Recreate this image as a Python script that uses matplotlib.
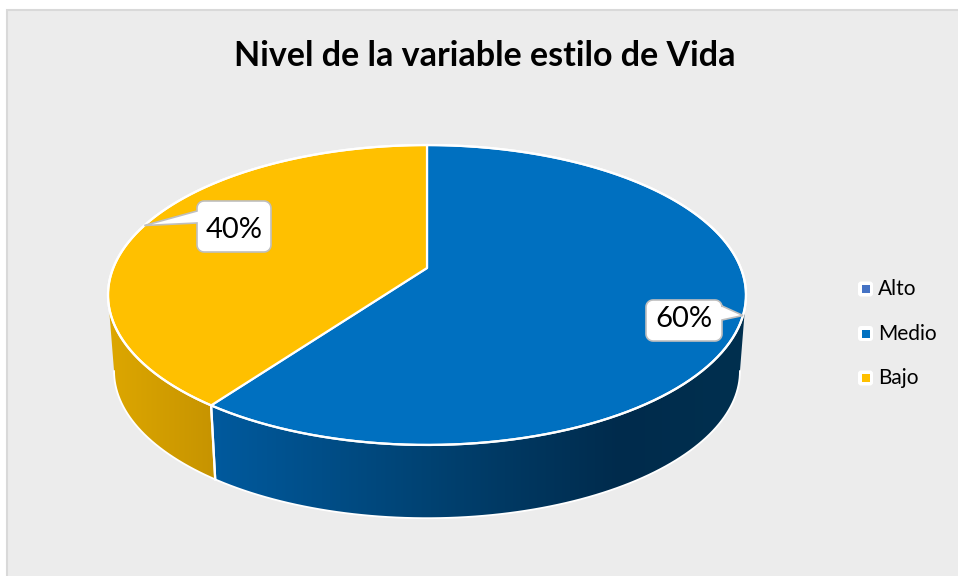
"""3D-style pie chart: Nivel de la variable estilo de Vida."""

import math

import matplotlib

matplotlib.use("Agg")
import matplotlib.pyplot as plt
import numpy as np
from matplotlib.colors import LinearSegmentedColormap
from matplotlib.patches import FancyBboxPatch, Polygon, Rectangle

plt.rcParams["font.family"] = ["Lato", "DejaVu Sans"]

# data
categories = ["Alto", "Medio", "Bajo"]
values = [0, 60, 40]
top_colors = ["#4472C4", "#0070C0", "#FFC000"]
title = "Nivel de la variable estilo de Vida"

# side-wall gradients (x position in px, colour)
side_stops = {
    "Medio": [(210, "#005a9e"), (430, "#004272"), (620, "#002b4c"), (746, "#00304f")],
    "Bajo": [(108, "#dda700"), (212, "#c79400")],
}
# label boxes: (x0, y0, x1, y1, pointer side, pointer base y0, y1)
label_boxes = {
    "Medio": (646, 300, 722, 341, "right", 306, 320),
    "Bajo": (197, 201, 271, 252, "left", 211, 223),
}

# perspective disc geometry (pixels)
CX, CY = 427.0, 268.0
R, S, K = 313.8, 145.1, 0.18
VX, VY, SB = 427.0, 4300.0, 0.981
FRONT = (100.4, 259.6)


def rim(phi, bottom=False):
    p = np.radians(phi)
    X, Y = np.sin(p), np.cos(p)
    d = 1 + K * Y
    x = CX + R * X / d
    y = CY - S * Y / d
    if bottom:
        x = VX + (x - VX) * SB
        y = VY + (y - VY) * SB
    return x, y


def arc(a0, a1, bottom=False, n=120):
    phis = np.linspace(a0, a1, n)
    x, y = rim(phis, bottom)
    return np.column_stack([x, y])


def rounded_callout(x0, y0, x1, y1, r, side, b0, b1, tip):
    pts = []

    def corner(cx, cy, start):
        for a in np.linspace(start, start + 90, 8):
            pts.append((cx + r * math.cos(math.radians(a)), cy + r * math.sin(math.radians(a))))

    # y axis points down; walk clockwise on screen
    corner(x0 + r, y0 + r, 180)          # top-left
    corner(x1 - r, y0 + r, 270)          # top-right
    if side == "right":
        pts += [(x1, b0), tip, (x1, b1)]
    corner(x1 - r, y1 - r, 0)            # bottom-right
    corner(x0 + r, y1 - r, 90)           # bottom-left
    if side == "left":
        pts += [(x0, b1), tip, (x0, b0)]
    return pts


fig = plt.figure(figsize=(9.58, 5.76), dpi=100)
ax = fig.add_axes([0, 0, 1, 1])
ax.axis("off")

ax.add_patch(Rectangle((7, 10), 960, 580, facecolor="#ececec", edgecolor="#d9d9d9", linewidth=1.5))

total = sum(values)
starts = np.cumsum([0] + values[:-1]) / total * 360
spans = np.array(values) / total * 360

# side walls
for name, a0, span in zip(categories, starts, spans):
    if span == 0:
        continue
    lo, hi = max(a0, FRONT[0]), min(a0 + span, FRONT[1])
    if lo >= hi:
        continue
    pts = np.vstack([arc(lo, hi), arc(hi, lo, bottom=True)])
    wall = Polygon(pts, closed=True, facecolor="none", edgecolor="none")
    ax.add_patch(wall)
    stops = side_stops[name]
    xa, xb = stops[0][0], stops[-1][0]
    cmap = LinearSegmentedColormap.from_list(
        name, [((x - xa) / (xb - xa), c) for x, c in stops])
    xmin, xmax = pts[:, 0].min(), pts[:, 0].max()
    grad = np.clip((np.linspace(xmin, xmax, 256) - xa) / (xb - xa), 0, 1)[None, :]
    im = ax.imshow(grad, cmap=cmap, vmin=0, vmax=1, aspect="auto",
                   extent=(xmin, xmax, pts[:, 1].max(), pts[:, 1].min()), zorder=2)
    im.set_clip_path(wall)
    # white seam at slice boundaries on the wall
    for edge in (lo, hi):
        if FRONT[0] < edge < FRONT[1]:
            (tx, ty), (bx, by) = rim(edge), rim(edge, True)
            ax.plot([tx, bx], [ty, by], color="white", linewidth=1.6, zorder=3)

# bottom outline of the wall
bot = arc(FRONT[0], FRONT[1], bottom=True)
ax.plot(bot[:, 0], bot[:, 1], color="white", linewidth=1.3, zorder=3)

# top faces
for name, color, a0, span in zip(categories, top_colors, starts, spans):
    if span == 0:
        continue
    pts = np.vstack([[CX, CY], arc(a0, a0 + span)])
    ax.add_patch(Polygon(pts, closed=True, facecolor=color, edgecolor="white",
                         linewidth=1.6, joinstyle="round", zorder=4))

rim_pts = arc(0, 360, n=400)
ax.plot(rim_pts[:, 0], rim_pts[:, 1], color="white", linewidth=1.6, zorder=5)

# data labels
for name, a0, span, v in zip(categories, starts, spans, values):
    if span == 0:
        continue
    x0, y0, x1, y1, side, b0, b1 = label_boxes[name]
    tip = rim(a0 + span / 2)
    pts = rounded_callout(x0, y0, x1, y1, 7, side, b0, b1, (float(tip[0]), float(tip[1])))
    ax.add_patch(Polygon(pts, closed=True, facecolor="white", edgecolor="#bfbfbf",
                         linewidth=1.2, zorder=6))
    ax.text((x0 + x1) / 2, y1 - 14, f"{v / total:.0%}", fontsize=21,
            ha="center", va="baseline", color="#000000", zorder=7)

# legend
for i, (name, color) in enumerate(zip(categories, top_colors)):
    yc = 289 + i * 44.5
    ax.add_patch(FancyBboxPatch((858, yc - 7.5), 15, 15, boxstyle="round,pad=0,rounding_size=3",
                                facecolor="white", edgecolor="none", zorder=6))
    ax.add_patch(Rectangle((862, yc - 4), 8, 8, facecolor=color, edgecolor="none", zorder=7))
    ax.text(878, yc + 6, name, fontsize=15, ha="left", va="baseline", color="#000000", zorder=7)

ax.text(485, 66, title, fontsize=24.5, fontweight="bold", ha="center", va="baseline")

ax.set_xlim(0, 958)
ax.set_ylim(576, 0)
fig.savefig("out.png", dpi=100, facecolor="white")
